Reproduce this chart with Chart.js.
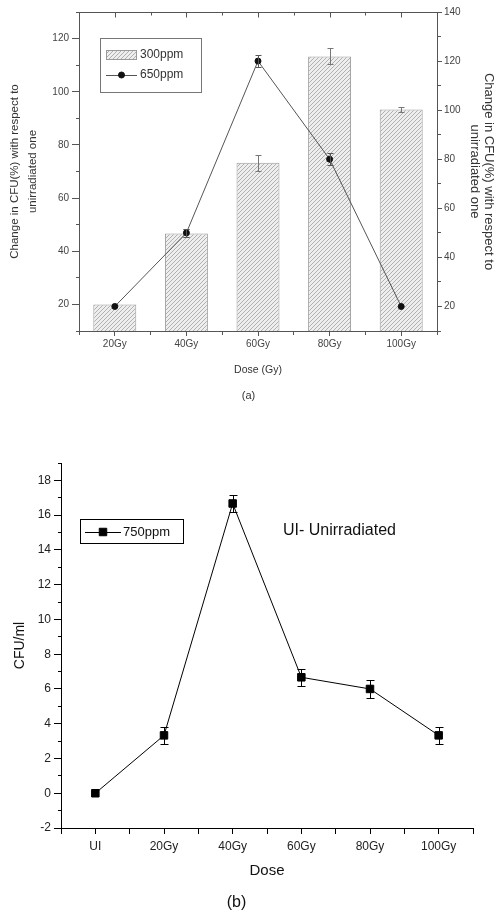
<!DOCTYPE html>
<html>
<head>
<meta charset="utf-8">
<script src="https://cdn.jsdelivr.net/npm/chart.js@4.4.1/dist/chart.umd.min.js"></script>
<style>
  html, body { margin: 0; padding: 0; background: #fff; }
  body { width: 497px; height: 916px; position: relative; overflow: hidden; }
  canvas { position: absolute; left: 0; }
  #chartA { top: 0; }
  #chartB { top: 430px; }
</style>
</head>
<body>
<canvas id="chartA" width="497" height="410"></canvas>
<canvas id="chartB" width="497" height="486"></canvas>
<script>
// (a) change in CFU (%) with respect to unirradiated, per dose
const dosesA = ["20Gy", "40Gy", "60Gy", "80Gy", "100Gy"];
const ppm300 = [20, 46.7, 73.3, 113.3, 93.3];      // bars, left axis
const ppm300Err = [0, 1.5, 3, 3, 1];
const ppm650 = [20, 50, 120, 80, 20];              // line, right axis
const ppm650Err = [0, 1.5, 2.5, 2.5, 0];

// (b) CFU/ml per dose
const dosesB = ["UI", "20Gy", "40Gy", "60Gy", "80Gy", "100Gy"];
const ppm750 = [0, 3.33, 16.67, 6.67, 6.0, 3.33];
const ppm750Err = [0, 0.5, 0.5, 0.5, 0.5, 0.5];

const FONT = "'Liberation Sans', Arial, sans-serif";
Chart.defaults.font.family = FONT;
Chart.defaults.color = "#333";
Chart.defaults.animation = false;

const pts = arr => arr.map((v, i) => ({ x: i, y: v }));
const isInt = v => Math.abs(v - Math.round(v)) < 1e-6;
// minor ticks get a shorter dash; left axes draw outer->axis, others axis->outer
const dashLeft = (len, minor) => c => (c.tick && minor(c.tick.value)) ? [0, len - 3, 3, 60] : [];
const dashOut = (minor) => c => (c.tick && minor(c.tick.value)) ? [3, 60] : [];

function hatch(canvasId) {
  const c = document.createElement("canvas");
  c.width = 4; c.height = 4;
  const g = c.getContext("2d");
  g.fillStyle = "#eeeeee"; g.fillRect(0, 0, 4, 4);
  g.strokeStyle = "#b0b0b0"; g.lineWidth = 1;
  g.beginPath();
  g.moveTo(-1, 5); g.lineTo(5, -1);
  g.moveTo(-1, 1); g.lineTo(1, -1);
  g.moveTo(3, 5); g.lineTo(5, 3);
  g.stroke();
  return document.getElementById(canvasId).getContext("2d").createPattern(c, "repeat");
}

/* plugins */
const errorBars = {
  id: "errorBars",
  afterDatasetsDraw(chart, args, o) {
    const { ctx } = chart;
    ctx.save();
    ctx.lineWidth = 1;
    chart.data.datasets.forEach((ds, i) => {
      if (!ds.errors) return;
      const meta = chart.getDatasetMeta(i);
      const ys = chart.scales[meta.yAxisID];
      ctx.strokeStyle = ds.errorColor || "#000";
      meta.data.forEach((el, j) => {
        const e = ds.errors[j];
        if (!e) return;
        const v = ds.data[j].y;
        const x = Math.round(el.x) + 0.5;
        const t = Math.round(ys.getPixelForValue(v + e)) + 0.5;
        const b = Math.round(ys.getPixelForValue(v - e)) + 0.5;
        ctx.beginPath();
        ctx.moveTo(x, t); ctx.lineTo(x, b);
        ctx.moveTo(x - o.cap, t); ctx.lineTo(x + o.cap, t);
        ctx.moveTo(x - o.cap, b); ctx.lineTo(x + o.cap, b);
        ctx.stroke();
      });
    });
    ctx.restore();
  }
};

const topFrame = {
  id: "topFrame",
  afterDraw(chart, args, o) {
    if (!o.show) return;
    const { ctx, chartArea: a } = chart;
    const xs = chart.scales.x;
    const y = Math.round(a.top) + 0.5;
    ctx.save();
    ctx.strokeStyle = o.color; ctx.lineWidth = 1;
    ctx.beginPath();
    ctx.moveTo(a.left, y); ctx.lineTo(a.right, y);
    xs.ticks.forEach(t => {
      const px = Math.round(xs.getPixelForValue(t.value)) + 0.5;
      ctx.moveTo(px, y); ctx.lineTo(px, y + (isInt(t.value) ? 5 : 3));
    });
    ctx.stroke();
    ctx.restore();
  }
};

const boxLegend = {
  id: "boxLegend",
  afterDraw(chart, args, o) {
    const { ctx } = chart;
    ctx.save();
    ctx.lineWidth = 1;
    ctx.strokeStyle = o.border;
    ctx.strokeRect(o.x + 0.5, o.y + 0.5, o.w, o.h);
    ctx.font = o.font;
    ctx.textBaseline = "middle";
    chart.data.datasets.forEach((ds, i) => {
      const cy = o.y + o.rowTop + i * o.rowGap;
      const x0 = o.x + o.pad;
      if (ds.type === "bar") {
        ctx.fillStyle = ds.backgroundColor;
        ctx.fillRect(x0, cy - 5, o.sample, 10);
        ctx.strokeStyle = ds.borderColor;
        ctx.strokeRect(x0 + 0.5, Math.round(cy - 5) + 0.5, o.sample - 1, 9);
      } else {
        ctx.strokeStyle = ds.borderColor;
        ctx.beginPath();
        ctx.moveTo(x0, Math.round(cy) + 0.5); ctx.lineTo(x0 + o.sample, Math.round(cy) + 0.5);
        ctx.stroke();
        ctx.fillStyle = ds.pointBackgroundColor;
        ctx.strokeStyle = ds.pointBorderColor;
        Chart.helpers.drawPoint(ctx, { pointStyle: ds.pointStyle, radius: ds.pointRadius, rotation: 0, borderWidth: 1 }, x0 + o.sample / 2, cy);
      }
      ctx.fillStyle = o.color;
      ctx.fillText(ds.label, x0 + o.sample + o.gap, cy);
    });
    if (o.note) {
      ctx.font = o.note.font;
      ctx.fillStyle = o.note.color;
      ctx.fillText(o.note.text, o.note.x, o.note.y);
    }
    ctx.restore();
  }
};

/* ---- chart (a) ---- */
const pat = hatch("chartA");
new Chart(document.getElementById("chartA"), {
  data: {
    datasets: [
      // linear x with half-step ticks: bar ruler uses tick spacing (half a category), so 1.2 ≈ 60% of a category
      { type: "bar", label: "300ppm", data: pts(ppm300), errors: ppm300Err, errorColor: "#777",
        yAxisID: "y", backgroundColor: pat, borderColor: "#9a9a9a", borderWidth: 1, borderSkipped: false,
        categoryPercentage: 1, barPercentage: 1.2, order: 2 },
      { type: "line", label: "650ppm", data: pts(ppm650), errors: ppm650Err, errorColor: "#555",
        yAxisID: "y1", borderColor: "#555", borderWidth: 1, pointStyle: "circle", pointRadius: 3,
        pointBackgroundColor: "#111", pointBorderColor: "#111", pointBorderWidth: 1, tension: 0, order: 1 }
    ]
  },
  options: {
    responsive: false,
    layout: { padding: { top: 12, left: 0, right: 0, bottom: 0 } },
    scales: {
      x: {
        type: "linear", min: -0.5, max: 4.5, offset: false,
        afterFit: s => { s.height = 58.4; },
        grid: { offset: false, drawOnChartArea: false, tickLength: 5, tickColor: "#555",
                tickBorderDash: dashOut(v => !isInt(v)) },
        border: { color: "#555", width: 1 },
        ticks: { stepSize: 0.5, maxTicksLimit: 50, autoSkip: false, maxRotation: 0, padding: 2,
                 font: { size: 10 }, color: "#444",
                 callback: v => isInt(v) ? dosesA[Math.round(v)] : "" },
        title: { display: true, text: "Dose (Gy)", font: { size: 10.5 }, color: "#333",
                 padding: { top: 0, bottom: 12.8 } }
      },
      y: {
        position: "left", min: 10, max: 130,
        afterFit: s => { s.width = 79; },
        grid: { drawOnChartArea: false, tickLength: 7, tickColor: "#555",
                tickBorderDash: dashLeft(7, v => Math.round(v) % 20 !== 0) },
        border: { color: "#555", width: 1 },
        ticks: { stepSize: 10, maxTicksLimit: 50, autoSkip: false, padding: 3, font: { size: 10 }, color: "#444",
                 callback: v => Math.round(v) % 20 === 0 ? v : "" },
        title: { display: true, text: ["Change in CFU(%) with respect to", "unirradiated one"],
                 font: { size: 11.5, lineHeight: "18px" }, color: "#333", padding: { top: 6, bottom: 0 } }
      },
      y1: {
        position: "right", min: 10, max: 140,
        afterFit: s => { s.width = 60; },
        grid: { drawOnChartArea: false, tickLength: 5, tickColor: "#555",
                tickBorderDash: dashOut(v => Math.round(v) % 20 !== 0) },
        border: { color: "#555", width: 1 },
        ticks: { stepSize: 10, maxTicksLimit: 50, autoSkip: false, padding: 2, font: { size: 10 }, color: "#444",
                 callback: v => Math.round(v) % 20 === 0 ? v : "" },
        title: { display: true, text: ["Change in CFU(%) with respect to", "unirradiated one"],
                 font: { size: 13, lineHeight: "14px" }, color: "#333", padding: { top: 1, bottom: 0 } }
      }
    },
    plugins: {
      legend: { display: false },
      tooltip: { enabled: false },
      title: { display: true, position: "bottom", text: "(a)", color: "#333",
               font: { size: 11, weight: "normal", lineHeight: "13.2px" }, padding: { top: 0, bottom: 7.4 } },
      errorBars: { cap: 3 },
      topFrame: { show: true, color: "#555" },
      boxLegend: { x: 100, y: 38, w: 101, h: 54, rowTop: 17, rowGap: 20, pad: 6, sample: 31, gap: 3,
                   font: "12px " + FONT, color: "#333", border: "#777" }
    }
  },
  plugins: [errorBars, topFrame, boxLegend]
});

/* ---- chart (b) ---- */
new Chart(document.getElementById("chartB"), {
  data: {
    datasets: [
      { type: "line", label: "750ppm", data: pts(ppm750), errors: ppm750Err, errorColor: "#000",
        borderColor: "#000", borderWidth: 1, pointStyle: "rect", pointRadius: 5.3,
        pointBackgroundColor: "#000", pointBorderColor: "#000", pointBorderWidth: 1, tension: 0 }
    ]
  },
  options: {
    responsive: false,
    layout: { padding: { top: 33, left: 0, right: 24, bottom: 0 } },
    scales: {
      x: {
        type: "linear", min: -0.5, max: 5.5, offset: false,
        afterFit: s => { s.height = 65.4; },
        grid: { offset: false, drawOnChartArea: false, tickLength: 6, tickColor: "#000" },
        border: { color: "#000", width: 1 },
        ticks: { stepSize: 0.5, maxTicksLimit: 50, autoSkip: false, maxRotation: 0, padding: 5,
                 font: { size: 12 }, color: "#222",
                 callback: v => isInt(v) ? dosesB[Math.round(v)] : "" },
        title: { display: true, text: "Dose", font: { size: 15, lineHeight: "18px" }, color: "#111",
                 padding: { top: 0, bottom: 13.4 } }
      },
      y: {
        min: -2, max: 19,
        afterFit: s => { s.width = 61; },
        grid: { drawOnChartArea: false, tickLength: 7, tickColor: "#000",
                tickBorderDash: dashLeft(7, v => Math.abs(Math.round(v)) % 2 === 1) },
        border: { color: "#000", width: 1 },
        ticks: { stepSize: 1, maxTicksLimit: 50, autoSkip: false, padding: 3, font: { size: 12 }, color: "#222",
                 callback: v => Math.abs(Math.round(v)) % 2 === 0 ? v : "" },
        title: { display: true, text: "CFU/ml", font: { size: 14, lineHeight: "16.8px" }, color: "#111",
                 padding: { top: 11.6, bottom: 0 } }
      }
    },
    plugins: {
      legend: { display: false },
      tooltip: { enabled: false },
      title: { display: true, position: "bottom", text: "(b)", color: "#111",
               font: { size: 16, weight: "normal", lineHeight: "19.2px" }, padding: { top: 0, bottom: 3.4 } },
      errorBars: { cap: 4 },
      boxLegend: { x: 80, y: 89, w: 103, h: 24, rowTop: 13, rowGap: 20, pad: 5, sample: 36, gap: 2,
                   font: "13px " + FONT, color: "#111", border: "#000",
                   note: { text: "UI- Unirradiated", x: 283, y: 101, font: "16px " + FONT, color: "#111" } }
    }
  },
  plugins: [errorBars, boxLegend]
});
</script>
</body>
</html>
